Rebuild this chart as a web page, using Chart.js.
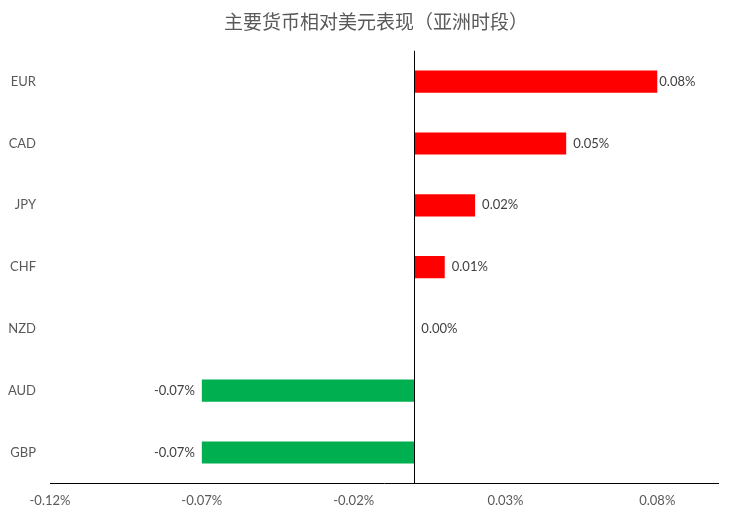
<!DOCTYPE html>
<html>
<head>
<meta charset="utf-8">
<script src="https://cdn.jsdelivr.net/npm/chart.js@4.4.1/dist/chart.umd.min.js"></script>
<style>
  html, body { margin: 0; padding: 0; background: #fff; }
  #wrap { width: 752px; height: 519px; }
</style>
</head>
<body>
<div id="wrap"><canvas id="c"></canvas></div>
<script>
'use strict';
const currencies = ['EUR', 'CAD', 'JPY', 'CHF', 'NZD', 'AUD', 'GBP'];
const changes = [0.080, 0.050, 0.020, 0.010, 0.000, -0.070, -0.070];   // in %
const xTicks = [-0.12, -0.07, -0.02, 0.03, 0.08];
const xMin = -0.12, xMax = 0.10;
const titleText = '主要货币相对美元表现（亚洲时段）';

const fmt = v => v.toFixed(2) + '%';
const fontFam = 'Lato, "Open Sans", "Noto Sans", sans-serif';

// zero line + value labels
const extras = {
    id: 'extras',
    afterDatasetsDraw(chart) {
        const ctx = chart.ctx;
        const x = chart.scales.x, area = chart.chartArea;
        const x0 = Math.round(x.getPixelForValue(0)) + 0.5;
        ctx.save();
        ctx.strokeStyle = '#000';
        ctx.lineWidth = 1;
        ctx.beginPath();
        ctx.moveTo(x0, area.top);
        ctx.lineTo(x0, area.bottom);
        ctx.stroke();

        ctx.font = '13px ' + fontFam;
        ctx.fillStyle = '#404040';
        ctx.textBaseline = 'middle';
        chart.getDatasetMeta(0).data.forEach((bar, i) => {
            const v = changes[i];
            if (v < 0) {
                ctx.textAlign = 'right';
                ctx.fillText(fmt(v), bar.x - 7, bar.y);
            } else {
                ctx.textAlign = 'left';
                ctx.fillText(fmt(v), bar.x + (v > 0.07 ? 2 : 7), bar.y);
            }
        });
        ctx.restore();
    }
};

new Chart(document.getElementById('c'), {
    type: 'bar',
    data: {
        labels: currencies,
        datasets: [{
            data: changes,
            backgroundColor: changes.map(v => v < 0 ? '#00B050' : '#FF0000'),
            borderWidth: 0,
            categoryPercentage: 1,
            barPercentage: 0.36
        }]
    },
    options: {
        indexAxis: 'y',
        responsive: true,
        maintainAspectRatio: false,
        animation: false,
        layout: { padding: { left: 0, right: 0, top: 0, bottom: 0 } },
        plugins: {
            legend: { display: false },
            tooltip: { enabled: false },
            title: {
                display: true,
                text: titleText,
                color: '#595959',
                font: { family: '"Noto Sans CJK SC", sans-serif', size: 19, weight: 'normal' },
                padding: { top: 10, bottom: 18 }
            }
        },
        scales: {
            x: {
                min: xMin,
                max: xMax,
                afterBuildTicks: s => { s.ticks = xTicks.map(v => ({ value: v })); },
                grid: { display: false, drawTicks: false },
                border: { display: true, color: '#000', width: 1 },
                ticks: {
                    callback: v => fmt(v),
                    color: '#595959',
                    font: { family: fontFam, size: 13 },
                    padding: 10,
                    maxRotation: 0
                }
            },
            y: {
                grid: { display: false, drawTicks: false },
                border: { display: false },
                afterFit: s => { s.width = 50; },
                ticks: {
                    color: '#595959',
                    font: { family: fontFam, size: 13 },
                    padding: 14
                }
            },
            // empty right-hand gutter so the title stays centred on the canvas
            yRight: {
                position: 'right',
                grid: { display: false, drawTicks: false },
                border: { display: false },
                ticks: { display: false },
                afterFit: s => { s.width = 34; }
            }
        }
    },
    plugins: [extras]
});
</script>
</body>
</html>
